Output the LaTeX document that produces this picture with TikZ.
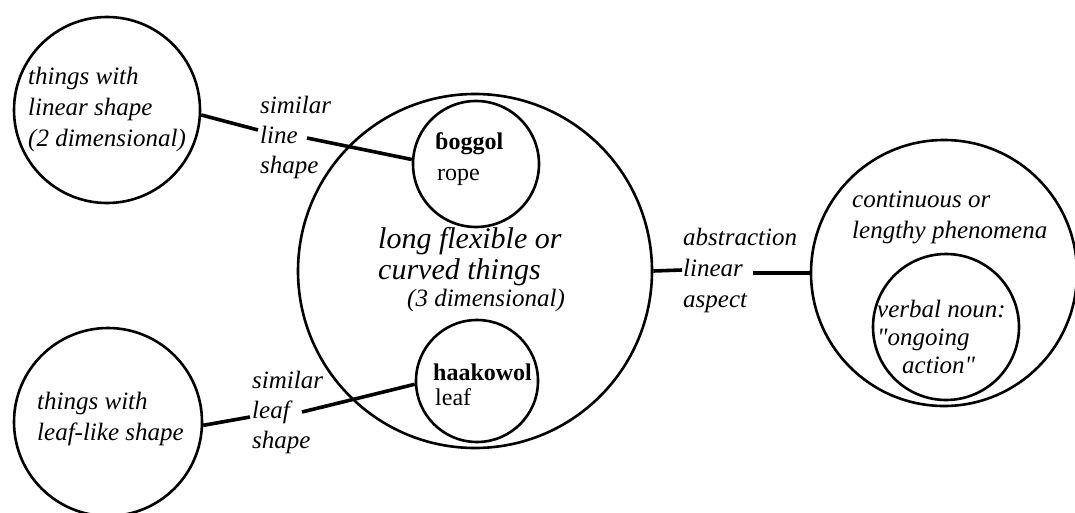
\documentclass[tikz,border=0pt]{standalone}
\usepackage{fontspec}
\setmainfont{Liberation Serif}[Ligatures=TeXOff]
\begin{document}
\begin{tikzpicture}[x=1pt,y=-1pt,
  ring/.style={circle,draw,line width=2.6pt,inner sep=0pt},
  link/.style={line width=3.6pt},
  lbl/.style={anchor=base west,inner sep=0pt,align=left,font=\itshape\fontsize{25}{31}\selectfont},
  biglbl/.style={anchor=base west,inner sep=0pt,align=left,font=\itshape\fontsize{30}{31}\selectfont},
  word/.style={anchor=base west,inner sep=0pt,font=\bfseries\fontsize{24}{28}\selectfont},
  gloss/.style={anchor=base west,inner sep=0pt,font=\fontsize{24}{28}\selectfont}]
\useasboundingbox (0,0) rectangle (1075,513);
% circles
\node[ring,minimum size=186pt] (tl) at (107,110) {};
\node[ring,minimum size=188pt] (bl) at (108,422) {};
\node[ring,minimum size=354pt] (big) at (475,271) {};
\node[ring,minimum size=126pt] (rope) at (476,164) {};
\node[ring,minimum size=122pt] (leaf) at (477,381) {};
\node[ring,minimum size=266pt] (rc) at (944,273) {};
\node[ring,minimum size=146pt] (vn) at (946,327) {};
% connector ends
\coordinate (c1) at (258,130);
\coordinate (c2) at (307,138);
\coordinate (c3) at (250,417);
\coordinate (c4) at (302,412);
\coordinate (c5) at (682,270);
\coordinate (c6) at (753,273);
\draw[link] (tl.-3) -- (c1);
\draw[link] (c2) -- (rope.176);
\draw[link] (bl.-2) -- (c3);
\draw[link] (c4) -- (leaf.183);
\draw[link] (big.0) -- (c5);
\draw[link] (c6) -- (rc.west);
% texts (anchor = baseline of last line)
\node[lbl] (t1) at (28,147) {things with\\linear shape\\(2 dimensional)};
\node[lbl] (t2) at (37,440) {things with\\leaf-like shape};
\node[lbl,font=\itshape\fontsize{25}{30}\selectfont] (t3) at (260,174) {similar\\line\\shape};
\node[lbl,font=\itshape\fontsize{25}{30}\selectfont] (t4) at (252,448) {similar\\leaf\\shape};
\node[biglbl] (t5) at (378,279) {long flexible or\\curved things};
\node[lbl] (t6) at (407,306) {(3 dimensional)};
\node[word] (t7) at (435,150) {ɓoggol};
\node[gloss] (t8) at (437,181) {rope};
\node[word] (t9) at (433,380) {haakowol};
\node[gloss] (t10) at (435,405) {leaf};
\node[lbl] (t11) at (683,307) {abstraction\\linear\\aspect};
\node[lbl] (t12) at (852,238) {continuous or\\lengthy phenomena};
\node[lbl,font=\itshape\fontsize{25}{28}\selectfont] (t13) at (877,373) {verbal noun:\\"ongoing\\\hspace*{25pt}action"};
\end{tikzpicture}
\end{document}
